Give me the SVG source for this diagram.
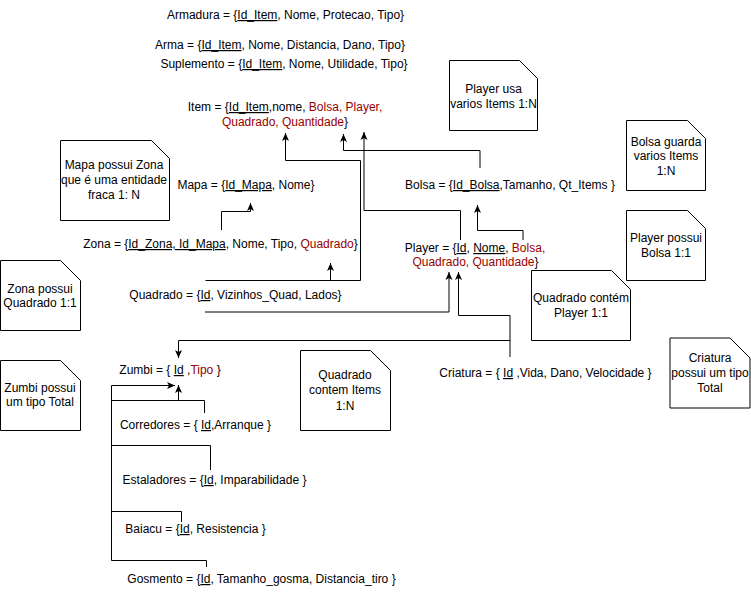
<svg xmlns="http://www.w3.org/2000/svg" width="751" height="592" viewBox="0 0 751 592">
<defs>
<style>
text{font-family:"Liberation Sans",Arial,Helvetica,sans-serif;font-size:12px;fill:#000;text-anchor:middle}
.r{fill:#990000}
.u{text-decoration:underline}
.note{fill:#fff;stroke:#000;stroke-width:1}
.c{fill:none;stroke:#000;stroke-width:1}
</style>
<marker id="ar" markerUnits="userSpaceOnUse" markerWidth="8" markerHeight="8" refX="8" refY="4" orient="auto" viewBox="0 0 8 8">
<path d="M0,0.5 L8,4 L0,7.5 L2,4 Z" fill="#000"/>
</marker>
</defs>
<rect width="751" height="592" fill="#fff"/>

<g id="connectors">
<path class="c" d="M205.5,280.5 H330.5 V263" marker-end="url(#ar)"/>
<path class="c" d="M330.5,280.5 H360.5 V160.5 H285.5 V133" marker-end="url(#ar)"/>
<path class="c" d="M480,168 V150.5 H343.5 V134" marker-end="url(#ar)"/>
<path class="c" d="M460.5,240 V210.5 H364 V132" marker-end="url(#ar)"/>
<path class="c" d="M221.5,230 V211.5 H250.5 V203" marker-end="url(#ar)"/>
<path class="c" d="M523,240 V230.5 H477.5 V205" marker-end="url(#ar)"/>
<path class="c" d="M205,312 H449 V272" marker-end="url(#ar)"/>
<path class="c" d="M510,357 V315.5 H458.5 V272" marker-end="url(#ar)"/>
<path class="c" d="M510,340.5 H178.5 V358" marker-end="url(#ar)"/>
<path class="c" d="M204.5,413 V400.5 H178.5 V385" marker-end="url(#ar)"/>
<path class="c" d="M111.5,560.5 V385.5 H175" marker-end="url(#ar)"/>
<path class="c" d="M111.5,400.5 H178.5"/>
<path class="c" d="M210.5,470 V445.5 H111.5"/>
<path class="c" d="M181.5,522 V511.5 H111.5"/>
<path class="c" d="M206.5,567 V560.5 H111.5"/>
</g>

<g id="armadura"><text x="285.5" y="19">Armadura = {<tspan class="u">Id_Item</tspan>, Nome, Protecao, Tipo}</text></g>
<g id="arma"><text x="280" y="49">Arma = {<tspan class="u">Id_Item</tspan>, Nome, Distancia, Dano, Tipo}</text></g>
<g id="suplemento"><text x="284" y="68">Suplemento = {<tspan class="u">Id_Item</tspan>, Nome, Utilidade, Tipo}</text></g>
<g id="item">
<text x="285" y="111">Item = {<tspan class="u">Id_Item</tspan>,nome, <tspan class="r">Bolsa, Player,</tspan></text>
<text x="285" y="126"><tspan class="r">Quadrado, Quantidade</tspan>}</text>
</g>
<g id="mapa"><text x="246" y="189">Mapa = {<tspan class="u">Id_Mapa</tspan>, Nome}</text></g>
<g id="zona"><text x="220.5" y="248">Zona = {<tspan class="u">Id_Zona, Id_Mapa</tspan>, Nome, Tipo, <tspan class="r">Quadrado</tspan>}</text></g>
<g id="quadrado"><text x="235.5" y="299">Quadrado = {<tspan class="u">Id</tspan>, Vizinhos_Quad, Lados}</text></g>
<g id="bolsa"><text x="510" y="189">Bolsa = {<tspan class="u">Id_Bolsa</tspan>,Tamanho, Qt_Items }</text></g>
<g id="player">
<text x="475" y="252">Player = {<tspan class="u">Id</tspan>, <tspan class="u">Nome</tspan>, <tspan class="r">Bolsa,</tspan></text>
<text x="475.5" y="266"><tspan class="r">Quadrado, Quantidade</tspan>}</text>
</g>
<g id="zumbi"><text x="170" y="374">Zumbi = { <tspan class="u">Id</tspan> ,<tspan class="r">Tipo</tspan> }</text></g>
<g id="corredores"><text x="195.5" y="429">Corredores = { <tspan class="u">Id</tspan>,Arranque }</text></g>
<g id="estaladores"><text x="214.5" y="484">Estaladores = {<tspan class="u">Id</tspan>, Imparabilidade }</text></g>
<g id="baiacu"><text x="195.5" y="533">Baiacu = {<tspan class="u">Id</tspan>, Resistencia }</text></g>
<g id="gosmento"><text x="261.5" y="583">Gosmento = {<tspan class="u">Id</tspan>, Tamanho_gosma, Distancia_tiro }</text></g>
<g id="criatura"><text x="545.5" y="377">Criatura = { <tspan class="u">Id</tspan> ,Vida, Dano, Velocidade }</text></g>

<g id="note-player-items">
<path class="note" d="M449.5,60.5 H519.5 L537.5,78.5 V130.5 H449.5 Z"/>
<text x="493.5" y="93">Player usa</text>
<text x="493.5" y="108">varios Items 1:N</text>
</g>
<g id="note-bolsa">
<path class="note" d="M626.5,120.5 H687.5 L705.5,138.5 V190.5 H626.5 Z"/>
<text x="666" y="146">Bolsa guarda</text>
<text x="666" y="160">varios Items</text>
<text x="666" y="175">1:N</text>
</g>
<g id="note-mapa">
<path class="note" d="M60.5,140.5 H151.5 L169.5,158.5 V220.5 H60.5 Z"/>
<text x="114" y="169">Mapa possui Zona</text>
<text x="114" y="184">que é uma entidade</text>
<text x="114" y="199">fraca 1: N</text>
</g>
<g id="note-zona">
<path class="note" d="M0.5,260.5 H60.5 L80.5,280.5 V330.5 H0.5 Z"/>
<text x="40" y="293">Zona possui</text>
<text x="40" y="307">Quadrado 1:1</text>
</g>
<g id="note-player-bolsa">
<path class="note" d="M626.5,210.5 H687.5 L705.5,228.5 V280.5 H626.5 Z"/>
<text x="666" y="242">Player possui</text>
<text x="666" y="257">Bolsa 1:1</text>
</g>
<g id="note-quadrado-player">
<path class="note" d="M531.5,270.5 H611.5 L630.5,289.5 V340.5 H531.5 Z"/>
<text x="581" y="302">Quadrado contém</text>
<text x="581" y="317">Player 1:1</text>
</g>
<g id="note-zumbi">
<path class="note" d="M0.5,360.5 H60.5 L80.5,380.5 V430.5 H0.5 Z"/>
<text x="40" y="392">Zumbi possui</text>
<text x="40" y="406">um tipo Total</text>
</g>
<g id="note-quadrado-items">
<path class="note" d="M300.5,350.5 H370.5 L390.5,370.5 V430.5 H300.5 Z"/>
<text x="345" y="379">Quadrado</text>
<text x="345" y="394">contem Items</text>
<text x="345" y="410">1:N</text>
</g>
<g id="note-criatura">
<path class="note" d="M670,338 H730 L750,358 V408 H670 Z"/>
<text x="710" y="362">Criatura</text>
<text x="710" y="377">possui um tipo</text>
<text x="710" y="392">Total</text>
</g>
</svg>
